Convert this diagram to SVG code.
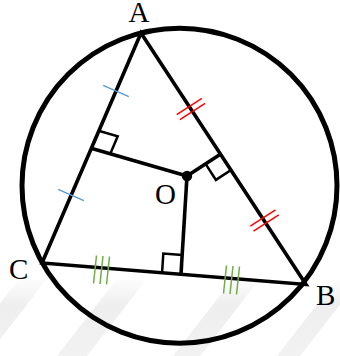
<svg xmlns="http://www.w3.org/2000/svg" width="340" height="356" viewBox="0 0 340 356">
  <style>
    .tri { fill: none; stroke: #000; stroke-width: 3.6; stroke-linejoin: miter; }
    .circ { fill: none; stroke: #000; stroke-width: 5; }
    .seg { fill: none; stroke: #000; stroke-width: 3.6; stroke-linecap: butt; }
    .sq { fill: none; stroke: #000; stroke-width: 2.5; stroke-linejoin: miter; }
    .tb { stroke: #5b9bd5; stroke-width: 1.5; }
    .tr { stroke: #ff0000; stroke-width: 1.5; }
    .tg { stroke: #70ad47; stroke-width: 1.5; }
    .lbl { font-family: "Liberation Serif", "Times New Roman", serif; font-size: 29px; fill: #000; }
    .band { fill: url(#bandGrad); }
  </style>
  <defs>
    <linearGradient id="bandGrad" x1="0" y1="272" x2="0" y2="356" gradientUnits="userSpaceOnUse">
      <stop offset="0" stop-color="#f2f2f2" stop-opacity="0"/>
      <stop offset="0.4" stop-color="#eeeeee" stop-opacity="1"/>
      <stop offset="1" stop-color="#f2f2f2" stop-opacity="1"/>
    </linearGradient>
  </defs>

  <g id="watermark">
    <polygon class="band" points="-41,356 -13,356 46,280 18,280"/>
    <polygon class="band" points="57,356 87,356 146,280 116,280"/>
    <polygon class="band" points="173,356 200,356 259,280 232,280"/>
    <polygon class="band" points="277,356 300,356 359,280 336,280"/>
  </g>

  <g id="circle">
    <circle class="circ" cx="179.5" cy="185.7" r="157.5"/>
  </g>

  <g id="triangle">
    <polygon class="tri" points="141,33 42,263 306,284.5"/>
  </g>

  <g id="connectors">
    <line class="seg" x1="187" y1="176" x2="92" y2="148.5"/>
    <line class="seg" x1="187" y1="176" x2="221.5" y2="153.5"/>
    <line class="seg" x1="187" y1="176" x2="181" y2="274"/>
  </g>

  <g id="right-angles">
    <polyline class="sq" points="99.4,131 117.7,136.3 110.3,153.8"/>
    <polyline class="sq" points="231.8,169.5 215.9,179.9 205.6,163.9"/>
    <polyline class="sq" points="162.1,272.5 163.3,253.5 182.2,255"/>
  </g>

  <g id="ticks">
    <line class="tb" x1="103.1" y1="85.4" x2="128.9" y2="96.6"/>
    <line class="tb" x1="58.1" y1="189.4" x2="83.9" y2="200.6"/>

    <line class="tr" x1="176.7" y1="114.6" x2="201.9" y2="98.4"/>
    <line class="tr" x1="179.9" y1="119.6" x2="205.1" y2="103.4"/>
    <line class="tr" x1="250.3" y1="226.1" x2="275.5" y2="209.9"/>
    <line class="tr" x1="253.5" y1="231.1" x2="278.7" y2="214.9"/>

    <line class="tg" x1="96.5" y1="255.5" x2="93.5" y2="283.5"/>
    <line class="tg" x1="103" y1="256" x2="100" y2="284"/>
    <line class="tg" x1="109.5" y1="256.5" x2="106.5" y2="284.5"/>
    <line class="tg" x1="226.5" y1="265.5" x2="223.5" y2="293.5"/>
    <line class="tg" x1="233" y1="266" x2="230" y2="294"/>
    <line class="tg" x1="239.5" y1="266.5" x2="236.5" y2="294.5"/>
  </g>

  <g id="O">
    <circle cx="187" cy="176" r="5.2" fill="#000"/>
    <text class="lbl" x="155" y="204">O</text>
  </g>
  <g id="A">
    <text class="lbl" x="139" y="22" text-anchor="middle">A</text>
  </g>
  <g id="B">
    <text class="lbl" x="316" y="305">B</text>
  </g>
  <g id="C">
    <text class="lbl" x="9" y="279">C</text>
  </g>
</svg>
